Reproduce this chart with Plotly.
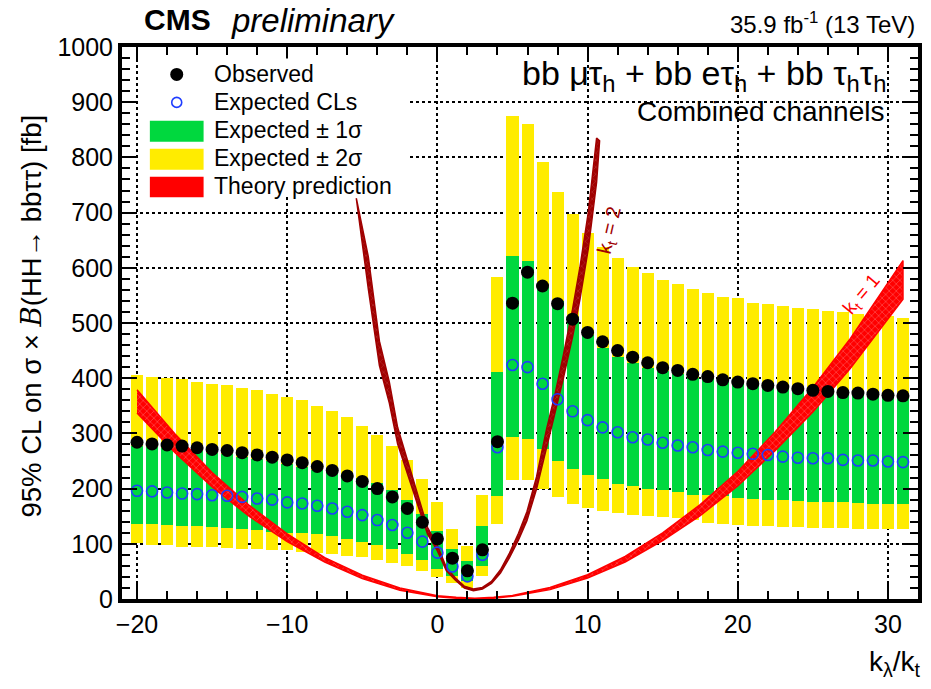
import plotly.graph_objects as go

# ---------------- data ----------------
kl = list(range(-20, 32))
exp_m2 = [102, 98, 97, 95, 95, 94, 93, 91, 91, 89, 88, 86, 84, 81, 78, 76, 71, 65, 60, 51,
          40, 29, 20, 41, 135, 215, 216, 199, 184, 172, 165, 160, 156, 153, 150, 148, 146, 143,
          138, 135, 134, 133, 132, 130, 130, 129, 129, 128, 127, 127, 126, 126]
exp_m1 = [136, 135, 134, 133, 132, 130, 128, 126, 125, 121, 120, 119, 117, 114, 109, 104, 97, 91, 82, 70,
          55, 41, 32, 59, 186, 293, 290, 272, 250, 235, 225, 217, 208, 204, 199, 197, 194, 189,
          188, 186, 183, 181, 180, 179, 177, 176, 175, 175, 174, 173, 173, 172]
expected = [196, 195, 193, 191, 190, 188, 187, 185, 182, 180, 175, 173, 169, 164, 158, 152, 143, 134, 120, 104,
            84, 59, 41, 80, 275, 424, 420, 390, 362, 340, 324, 311, 302, 293, 289, 283, 278, 275,
            270, 267, 265, 263, 261, 258, 256, 255, 255, 252, 251, 251, 249, 248]
exp_p1 = [277, 275, 273, 271, 268, 265, 262, 258, 254, 250, 245, 240, 233, 230, 226, 220, 211, 197, 179, 154,
          124, 90, 68, 132, 412, 622, 612, 565, 540, 508, 478, 455, 439, 428, 419, 413, 407, 401,
          400, 396, 392, 389, 386, 383, 380, 377, 375, 373, 372, 370, 368, 366]
exp_p2 = [405, 403, 400, 398, 394, 390, 387, 382, 379, 372, 366, 360, 350, 341, 329, 314, 297, 278, 252, 218,
          175, 126, 96, 188, 583, 875, 860, 792, 737, 697, 663, 638, 618, 602, 590, 578, 570, 562,
          554, 548, 545, 537, 534, 531, 528, 525, 522, 520, 517, 514, 513, 509]
observed = [284, 281, 279, 277, 274, 271, 269, 265, 261, 257, 252, 247, 240, 233, 223, 213, 200, 185, 164, 139,
            109, 74, 51, 89, 285, 536, 592, 567, 535, 507, 483, 466, 450, 438, 428, 419, 414, 407,
            403, 397, 393, 390, 387, 384, 381, 378, 376, 374, 373, 371, 369, 368]

# theory, kt = 1
th1_x = [-20, -17.5, -15, -12.5, -10, -7.5, -5, -2.5, 0, 1.25, 2.5, 3.75, 5, 7.5, 10, 12.5, 15, 17.5, 20,
         22.5, 25, 27.5, 31]
th1_lo = [337, 266, 203, 149, 104, 67, 37, 16, 4, 1.5, 0.5, 1.5, 5, 17, 38, 67, 106, 151, 205,
          269, 339, 418, 543]
th1_hi = [379, 300, 229, 169, 118, 75, 43, 20, 6, 3, 1.5, 3, 6.2, 21, 44, 77, 120, 171, 231,
          303, 383, 472, 613]
# theory, kt = 2
th2_x = [-5.4, -4.6, -3.86, -3.2, -2.65, -2.0, -1.32, -0.66, 0, 0.6, 1.2, 1.8, 2.4, 3.0, 3.6, 4.2,
         4.8, 5.4, 5.96, 6.6, 7.28, 7.8, 8.39, 9.0, 9.49, 10.05, 10.6, 10.8]
th2_lo = [726, 562, 423, 355, 281, 227, 171, 118, 87, 51, 34, 20, 15, 18, 28, 47,
          75, 107, 142, 199, 279, 333, 400, 475, 543, 635, 755, 830]
th2_hi = [726, 620, 467, 393, 311, 251, 189, 130, 97, 57, 38, 23, 18, 21, 32, 53,
          83, 119, 158, 221, 309, 367, 442, 525, 601, 701, 835, 830]

YELLOW = "#ffec00"
GREEN = "#00d83e"
RED = "#ff0000"
DRED = "#a00000"
FONT = "Liberation Sans"

fig = go.Figure()

fig.add_trace(go.Bar(x=kl, y=[t - b for t, b in zip(exp_p2, exp_m2)], base=exp_m2, width=0.8,
                     marker=dict(color=YELLOW, line=dict(width=0)), showlegend=False))
fig.add_trace(go.Bar(x=kl, y=[t - b for t, b in zip(exp_p1, exp_m1)], base=exp_m1, width=0.8,
                     marker=dict(color=GREEN, line=dict(width=0)), showlegend=False))

# theory bands
fig.add_trace(go.Scatter(x=th1_x + th1_x[::-1], y=th1_hi + th1_lo[::-1], mode="lines", fill="toself",
                         line=dict(color=RED, width=1.5), fillcolor=RED,
                         fillpattern=dict(shape="x", bgcolor=RED, fgcolor="#ff9a9a", size=5, solidity=0.25),
                         showlegend=False, hoverinfo="skip"))
fig.add_trace(go.Scatter(x=th2_x + th2_x[::-1], y=th2_hi + th2_lo[::-1], mode="lines", fill="toself",
                         line=dict(color=DRED, width=1.5), fillcolor=DRED,
                         fillpattern=dict(shape="x", bgcolor=DRED, fgcolor="#d06a6a", size=5, solidity=0.2),
                         showlegend=False, hoverinfo="skip"))

fig.add_trace(go.Scatter(x=kl, y=expected, mode="markers",
                         marker=dict(symbol="circle-open", size=11, color="#1f3dff", line=dict(width=1.6)),
                         showlegend=False))
fig.add_trace(go.Scatter(x=kl, y=observed, mode="markers",
                         marker=dict(symbol="circle", size=13, color="black"), showlegend=False))

axis_common = dict(showline=True, linewidth=4, linecolor="black", mirror="allticks",
                   ticks="inside", tickwidth=2, tickcolor="black", ticklen=15,
                   showgrid=True, gridcolor="black", griddash="dot", gridwidth=1.5,
                   zeroline=False, tickfont=dict(family=FONT, size=25, color="black"))
fig.update_xaxes(range=[-21, 32], tick0=0, dtick=10,
                 minor=dict(dtick=2, ticklen=8, ticks="inside", tickcolor="black", tickwidth=1.5, showgrid=False),
                 **axis_common)
fig.update_yaxes(range=[0, 1000], tick0=0, dtick=100,
                 minor=dict(dtick=20, ticklen=8, ticks="inside", tickcolor="black", tickwidth=1.5, showgrid=False),
                 **axis_common)

W, H = 931, 689
L, R, T, B = 122, 922, 46.5, 599.5


def px(x):
    return (x - L) / (R - L)


def py(y):
    return (B - y) / (B - T)


ann = []


def text(x, y, s, size, xanchor="left", color="black", angle=0, xref="paper", yref="paper"):
    ann.append(dict(x=x, y=y, xref=xref, yref=yref, text=s, showarrow=False, xanchor=xanchor,
                    yanchor="middle", textangle=angle, font=dict(family=FONT, size=size, color=color)))


text(px(142), py(19), "<b>CMS</b>", 30)
text(px(230), py(20), "<i>preliminary</i>", 33)
text(px(921), py(22), "35.9 fb<sup>-1</sup> (13 TeV)", 24, xanchor="right")
text(px(893), py(75), "bb μτ<sub>h</sub> + bb eτ<sub>h</sub> + bb τ<sub>h</sub>τ<sub>h</sub>", 34, xanchor="right")
text(px(891), py(111), "Combined channels", 28, xanchor="right")
text(px(927), py(664), "k<sub>λ</sub>/k<sub>t</sub>", 28, xanchor="right")
ann.append(dict(x=px(31), y=py(316), xref="paper", yref="paper", showarrow=False, textangle=-90,
                text="95% CL on σ × <span style=\"font-family:'DejaVu Serif'\"><i>B</i></span>(HH→ bbττ) [fb]",
                xanchor="center", yanchor="middle",
                font=dict(family=FONT, size=27.5, color="black")))
text(11.5, 668, "k<sub>t</sub> = 2", 20, xanchor="center", color=DRED, angle=-77, xref="x", yref="y")
text(28.3, 550, "k<sub>t</sub> = 1", 19, xanchor="center", color=RED, angle=-50, xref="x", yref="y")

# legend
leg_rows = [74, 102, 130, 158, 186]
leg_text = ["Observed", "Expected CLs", "Expected ± 1σ", "Expected ± 2σ", "Theory prediction"]
for yy, s in zip(leg_rows, leg_text):
    text(px(212), py(yy), s, 23)

shapes = []
shapes.append(dict(type="rect", xref="paper", yref="paper", x0=px(139), x1=px(410), y0=py(195), y1=py(58),
                   fillcolor="white", line=dict(width=0), layer="above"))
shapes.append(dict(type="circle", xref="paper", yref="paper", xsizemode="pixel", ysizemode="pixel",
                   xanchor=px(177), yanchor=py(74), x0=-6.5, x1=6.5, y0=-6.5, y1=6.5,
                   fillcolor="black", line=dict(color="black", width=0), layer="above"))
shapes.append(dict(type="circle", xref="paper", yref="paper", xsizemode="pixel", ysizemode="pixel",
                   xanchor=px(177), yanchor=py(102), x0=-5, x1=5, y0=-5, y1=5,
                   fillcolor="rgba(0,0,0,0)", line=dict(color="#1f3dff", width=1.6), layer="above"))
for (y0, y1, c) in [(120.5, 141.5, GREEN), (148.5, 169.5, YELLOW), (176.5, 197, RED)]:
    shapes.append(dict(type="rect", xref="paper", yref="paper", x0=px(150), x1=px(204), y0=py(y1), y1=py(y0),
                       fillcolor=c, line=dict(width=0), layer="above"))

fig.update_layout(width=W, height=H, margin=dict(l=L, r=W - R, t=T, b=H - B),
                  paper_bgcolor="white", plot_bgcolor="white", barmode="overlay", bargap=0,
                  annotations=ann, shapes=shapes, font=dict(family=FONT, color="black"))

fig.write_html("out.html")
